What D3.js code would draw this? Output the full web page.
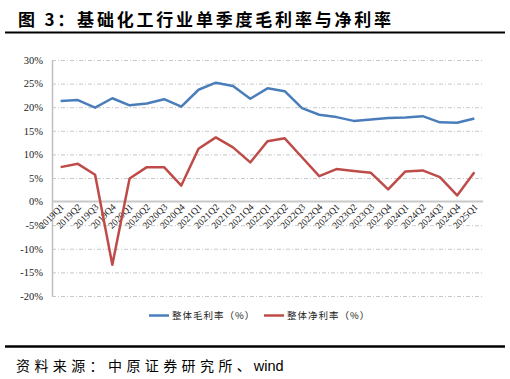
<!DOCTYPE html>
<html><head><meta charset="utf-8">
<script src="https://cdn.jsdelivr.net/npm/d3@7"></script>
<style>
body{margin:0;background:#fff;}
svg{display:block;}
</style></head>
<body>
<svg id="c" width="510" height="379"></svg>
<script>
const categories = ["2019Q1","2019Q2","2019Q3","2019Q4","2020Q1","2020Q2","2020Q3","2020Q4","2021Q1","2021Q2","2021Q3","2021Q4","2022Q1","2022Q2","2022Q3","2022Q4","2023Q1","2023Q2","2023Q3","2023Q4","2024Q1","2024Q2","2024Q3","2024Q4","2025Q1"];
const grossMargin = [21.3,21.5,19.9,21.9,20.4,20.8,21.7,20.1,23.7,25.2,24.5,21.8,24.0,23.4,19.8,18.4,17.9,17.1,17.4,17.7,17.8,18.1,16.8,16.7,17.6];
const netMargin = [7.3,8.0,5.7,-13.4,4.9,7.3,7.3,3.4,11.2,13.6,11.5,8.3,12.8,13.4,9.4,5.4,6.9,6.5,6.1,2.6,6.4,6.6,5.2,1.3,6.2];
const yTicks = [-20,-15,-10,-5,0,5,10,15,20,25,30];
const seriesNames = ["整体毛利率（%）","整体净利率（%）"];
const colors = ["#4A7EBB","#BE4B48"];
const title = "图 3：基础化工行业单季度毛利率与净利率";
const sourceCJK = "资料来源：中原证券研究所";
const sourceSep = "、";
const sourceLatin = "wind";

const svg = d3.select("#c");
const L = 52, R = 483, T = 60, B = 296;

// title
svg.append("text").attr("x",18).attr("y",26)
  .attr("font-family","'Noto Sans CJK SC', sans-serif").attr("font-weight","bold")
  .attr("font-size",17).attr("letter-spacing",2.8).attr("fill","#000").text(title);
svg.append("line").attr("x1",5).attr("x2",505).attr("y1",32.5).attr("y2",32.5)
  .attr("stroke","#000").attr("stroke-width",2);

const x = d3.scaleBand().domain(categories).range([L,R]);
const y = d3.scaleLinear().domain([-20,30]).range([B,T]);

// gridlines
svg.append("g").selectAll("line").data(yTicks.filter(d=>d!==0)).join("line")
  .attr("x1",L).attr("x2",R).attr("y1",d=>y(d)+0.5).attr("y2",d=>y(d)+0.5)
  .attr("stroke","#C8C8C8").attr("stroke-width",1).attr("stroke-dasharray","4,2,1,2");

// y axis
const ya = svg.append("g").attr("transform",`translate(${L},0)`)
  .call(d3.axisLeft(y).tickValues(yTicks).tickSize(0).tickPadding(9).tickFormat(d=>d+"%"));
ya.select(".domain").attr("stroke","#BFBFBF").attr("stroke-width",1.5);
ya.selectAll("text").attr("font-family","'Liberation Serif', serif").attr("font-size",10.5).attr("fill","#222");

// zero line
svg.append("line").attr("x1",L).attr("x2",R).attr("y1",y(0)).attr("y2",y(0))
  .attr("stroke","#C8C8C8").attr("stroke-width",2);

// x axis labels
const xa = svg.append("g").attr("transform",`translate(0,${y(0)})`)
  .call(d3.axisBottom(x).tickSize(0).tickPadding(0));
xa.select(".domain").remove();
xa.selectAll("text").attr("font-family","'Liberation Serif', serif").attr("font-size",9.5).attr("fill","#222")
  .attr("text-anchor","end").attr("dy",0)
  .attr("transform","translate(4,6) rotate(-45)");

// lines
const line = d3.line().x((d,i)=>x(categories[i])+x.bandwidth()/2).y(d=>y(d));
[grossMargin, netMargin].forEach((s,k)=>{
  svg.append("path").datum(s).attr("d",line).attr("fill","none")
    .attr("stroke",colors[k]).attr("stroke-width",2.5).attr("stroke-linejoin","round");
});

// legend
const legX = [149, 264];
seriesNames.forEach((n,k)=>{
  svg.append("line").attr("x1",legX[k]).attr("x2",legX[k]+20).attr("y1",315.5).attr("y2",315.5)
    .attr("stroke",colors[k]).attr("stroke-width",2.5);
  svg.append("text").attr("x",legX[k]+23).attr("y",319)
    .attr("font-family","'Noto Sans CJK SC', sans-serif").attr("font-size",9.5).attr("letter-spacing",1).attr("fill","#222").text(n);
});

// bottom rule + source
svg.append("line").attr("x1",5).attr("x2",505).attr("y1",346.5).attr("y2",346.5)
  .attr("stroke","#000").attr("stroke-width",2.5);
const st = svg.append("text").attr("x",16).attr("y",371).attr("fill","#000");
st.append("tspan").attr("font-family","'Noto Sans CJK SC', sans-serif").attr("font-size",14).attr("letter-spacing",4.4).text(sourceCJK);
st.append("tspan").attr("font-family","'Noto Sans CJK SC', sans-serif").attr("font-size",14).attr("letter-spacing",0).text(sourceSep);
st.append("tspan").attr("dx",3).attr("font-family","'Liberation Sans', Arial, sans-serif").attr("font-size",14.5).attr("letter-spacing",0).text(sourceLatin);
</script>
</body></html>
